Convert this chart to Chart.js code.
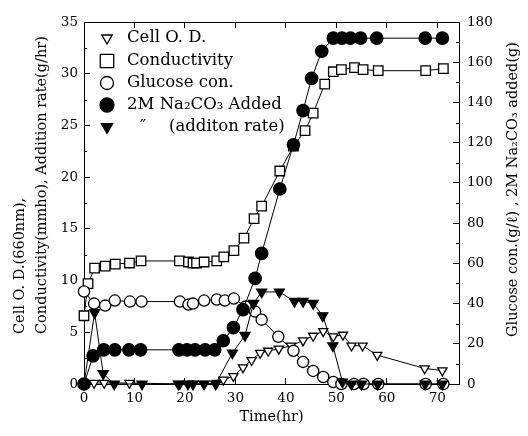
<!DOCTYPE html>
<html>
<head>
<meta charset="utf-8">
<script src="https://cdn.jsdelivr.net/npm/chart.js@4/dist/chart.umd.min.js"></script>
<style>
  html, body { margin: 0; padding: 0; background: #fff; }
</style>
</head>
<body>
<canvas id="myChart" width="528" height="436"></canvas>
<script>
// Dados (tempo em horas)
const odTime = [0, 2.0, 4.0, 9.0, 19.0, 21.6, 23.8, 26.3, 27.6, 29.6, 31.5, 33.2, 34.9, 36.5, 38.6, 41.0, 43.4, 45.4, 47.4, 49.4, 51.3, 53.0, 55.2, 58.1, 67.5, 71.0];
const odValue = [0, 0.1, 0.1, 0.1, 0, 0, 0, 0.1, 0.4, 0.75, 1.6, 2.3, 3.0, 3.2, 3.4, 3.7, 4.2, 4.65, 5.1, 4.6, 4.75, 3.7, 3.7, 2.8, 1.5, 1.3];

const condTime = [0, 0.8, 2.1, 4.2, 6.2, 9.0, 11.3, 18.9, 20.7, 21.6, 22.3, 23.8, 26.3, 27.7, 29.7, 31.7, 33.7, 35.2, 38.8, 41.5, 43.8, 45.4, 47.7, 49.4, 51.0, 53.6, 55.3, 58.3, 67.7, 71.2];
const condValue = [6.6, 9.7, 11.2, 11.4, 11.6, 11.7, 11.9, 11.9, 11.8, 11.7, 11.7, 11.8, 11.9, 12.3, 12.9, 14.1, 16.0, 17.2, 20.6, 23.0, 24.5, 26.2, 29.0, 30.2, 30.4, 30.6, 30.4, 30.3, 30.3, 30.5];

// eixo da direita (g/l)
const glucoseTime = [0, 2.0, 4.2, 6.1, 9.1, 11.4, 19.0, 20.7, 21.6, 23.8, 26.3, 27.9, 29.7, 32.0, 33.9, 35.2, 38.5, 41.5, 43.4, 45.4, 47.4, 49.4, 51.0, 53.5, 55.4, 58.3, 67.7, 71.2];
const glucoseValue = [46, 40, 39, 41.5, 41, 41, 41, 39.5, 40, 41.5, 42, 41.5, 42.5, 38.5, 36, 32, 23.5, 16.5, 11, 6.5, 3.5, 1, 0, 0, 0, 0, 0, 0];

// eixo da direita (g)
const naTime = [0, 1.8, 3.9, 6.1, 8.9, 11.2, 18.8, 20.4, 22.0, 24.0, 25.9, 27.6, 29.6, 31.5, 33.9, 35.2, 38.8, 41.5, 43.4, 45.1, 47.1, 49.4, 51.1, 52.8, 54.8, 58.0, 67.6, 71.0];
const naValue = [0, 14, 17, 17, 17, 17, 17, 17, 17, 17, 17, 21.5, 28, 37, 52.5, 65, 97, 119, 136, 152, 165.5, 172, 172, 172, 172, 172, 172, 172];

const rateTime = [0, 2.1, 3.8, 6.0, 11.5, 18.7, 20.6, 21.6, 23.8, 26.1, 29.4, 31.9, 33.6, 35.2, 38.7, 41.7, 43.4, 45.4, 47.3, 49.3, 51.2, 53.0, 55.0, 58.2, 67.6, 71.0];
const rateValue = [0, 6.9, 1.0, 0, 0, 0, 0, 0, 0, 0, 3.0, 4.7, 7.8, 8.9, 8.9, 8.0, 8.0, 7.8, 6.6, 3.7, 0.2, 0, 0, 0, 0, 0];

const seriesLabels = ['Cell O. D.', 'Conductivity', 'Glucose con.', '2M Na\u2082CO\u2083 Added', '\u2033|(additon rate)'];

const xTicks = [0, 10, 20, 30, 40, 50, 60, 70];
const leftTicks = [0, 5, 10, 15, 20, 25, 30, 35];
const rightTicks = [0, 20, 40, 60, 80, 100, 120, 140, 160, 180];

const SERIF = "'DejaVu Serif', 'Liberation Serif', serif";

function toPoints(xs, ys) {
  return xs.map((x, i) => ({ x: x, y: ys[i] }));
}

function serie(label, xs, ys, axis, style, rotation, fill, radius, order) {
  return {
    label: label,
    data: toPoints(xs, ys),
    yAxisID: axis,
    borderColor: '#000',
    borderWidth: 1,
    backgroundColor: fill,
    pointStyle: style,
    pointRotation: rotation,
    pointRadius: radius,
    pointHoverRadius: radius,
    pointBackgroundColor: fill,
    pointBorderColor: '#000',
    pointBorderWidth: 1.3,
    fill: false,
    tension: 0,
    clip: false,
    order: order
  };
}

// Legenda desenhada dentro da área do gráfico
const legendPlugin = {
  id: 'insideLegend',
  afterDraw(chart) {
    const c = chart.ctx;
    const rowsY = [38, 61, 83, 105, 127];
    const legendRadius = [6, 9.5, 6.5, 7, 6.5];
    c.save();
    c.font = '16.5px ' + SERIF;
    c.textBaseline = 'middle';
    c.textAlign = 'left';
    chart.data.datasets.forEach((ds, i) => {
      c.fillStyle = ds.pointBackgroundColor;
      c.strokeStyle = '#000';
      c.lineWidth = 1.3;
      Chart.helpers.drawPoint(c, {
        pointStyle: ds.pointStyle,
        rotation: ds.pointRotation,
        radius: legendRadius[i],
        borderWidth: 1.3
      }, 107, rowsY[i]);
      c.fillStyle = '#000';
      const parts = seriesLabels[i].split('|');
      if (parts.length > 1) {
        c.fillText(parts[0], 140, rowsY[i]);
        c.fillText(parts[1], 169, rowsY[i]);
      } else {
        c.fillText(parts[0], 127, rowsY[i]);
      }
    });
    c.restore();
  }
};

// Títulos verticais e marcas menores dos eixos
const axisExtras = {
  id: 'axisExtras',
  afterDraw(chart) {
    const c = chart.ctx;
    const a = chart.chartArea;
    const yl = chart.scales.y;
    const yr = chart.scales.y2;
    c.save();
    c.strokeStyle = '#000';
    c.lineWidth = 1;
    c.beginPath();
    for (let v = 2.5; v < 35; v += 5) {
      const py = Math.round(yl.getPixelForValue(v)) + 0.5;
      c.moveTo(a.left, py); c.lineTo(a.left + 3, py);
    }
    for (let v = 10; v < 180; v += 20) {
      const py = Math.round(yr.getPixelForValue(v)) + 0.5;
      c.moveTo(a.right, py); c.lineTo(a.right - 3, py);
    }
    c.stroke();

    c.fillStyle = '#000';
    c.font = '14.5px ' + SERIF;
    c.textBaseline = 'middle';
    c.textAlign = 'left';
    const titles = [
      { text: 'Cell O. D.(660nm),', x: 20, y: 334 },
      { text: 'Conductivity(mmho), Addition rate(g/hr)', x: 42, y: 334 },
      { text: 'Glucose con.(g/\u2113) , 2M Na\u2082CO\u2083 added(g)', x: 513, y: 337 }
    ];
    titles.forEach(t => {
      c.save();
      c.translate(t.x, t.y);
      c.rotate(-Math.PI / 2);
      c.fillText(t.text, 0, 0);
      c.restore();
    });
    c.restore();
  }
};

const tickFont = { family: SERIF, size: 13.5 };

function fixedTicks(values) {
  return function (scale) {
    scale.ticks = values.map(v => ({ value: v }));
  };
}

const ctx = document.getElementById('myChart').getContext('2d');

const chart = new Chart(ctx, {
  type: 'line',
  data: {
    datasets: [
      serie(seriesLabels[0], odTime, odValue, 'y', 'triangle', 180, '#fff', 5.3, 4),
      serie(seriesLabels[1], condTime, condValue, 'y', 'rect', 0, '#fff', 6.7, 3),
      serie(seriesLabels[2], glucoseTime, glucoseValue, 'y2', 'circle', 0, '#fff', 5.6, 2),
      serie(seriesLabels[3], naTime, naValue, 'y2', 'circle', 0, '#000', 6.2, 0),
      serie(seriesLabels[4], rateTime, rateValue, 'y', 'triangle', 180, '#000', 5.8, 1)
    ]
  },
  options: {
    responsive: false,
    animation: false,
    events: [],
    layout: { padding: 0 },
    plugins: {
      legend: { display: false },
      tooltip: { enabled: false }
    },
    scales: {
      x: {
        type: 'linear',
        position: 'bottom',
        min: 0,
        max: 74.3,
        afterBuildTicks: fixedTicks(xTicks),
        afterFit: s => { s.height = 52; },
        grid: { drawOnChartArea: false, tickLength: -6, tickColor: '#000', color: '#000' },
        border: { color: '#000', width: 1 },
        ticks: { color: '#000', font: tickFont, padding: 12, maxRotation: 0 },
        title: {
          display: true,
          text: 'Time(hr)',
          color: '#000',
          font: { family: SERIF, size: 14.5 },
          padding: { top: 0, bottom: 10 }
        }
      },
      x2: {
        type: 'linear',
        position: 'top',
        min: 0,
        max: 74.3,
        afterBuildTicks: fixedTicks(xTicks),
        afterFit: s => { s.height = 15; },
        grid: { drawOnChartArea: false, tickLength: -6, tickColor: '#000', color: '#000' },
        border: { color: '#000', width: 1 },
        ticks: { display: false }
      },
      y: {
        type: 'linear',
        position: 'left',
        min: 0,
        max: 35,
        afterBuildTicks: fixedTicks(leftTicks),
        afterFit: s => { s.width = 84; },
        grid: { drawOnChartArea: false, tickLength: -6, tickColor: '#000', color: '#000' },
        border: { color: '#000', width: 1 },
        ticks: { color: '#000', font: tickFont, padding: 12 }
      },
      y2: {
        type: 'linear',
        position: 'right',
        min: 0,
        max: 180,
        afterBuildTicks: fixedTicks(rightTicks),
        afterFit: s => { s.width = 69; },
        grid: { drawOnChartArea: false, tickLength: -6, tickColor: '#000', color: '#000' },
        border: { color: '#000', width: 1 },
        ticks: { color: '#000', font: tickFont, padding: 14 }
      }
    }
  },
  plugins: [legendPlugin, axisExtras]
});
</script>
</body>
</html>
